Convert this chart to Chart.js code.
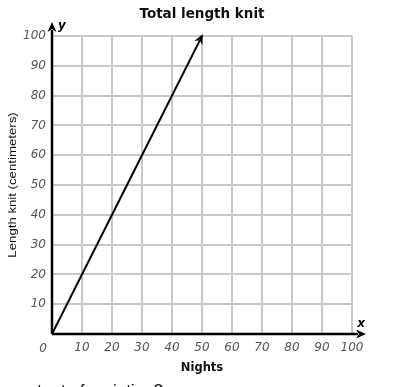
<!DOCTYPE html>
<html>
<head>
<meta charset="utf-8">
<style>
  html, body { margin: 0; padding: 0; background: #fff; }
  #wrap { width: 420px; height: 387px; }
</style>
<script src="https://cdn.jsdelivr.net/npm/chart.js@4"></script>
</head>
<body>
<div id="wrap"><canvas id="c" width="420" height="387"></canvas></div>
<script>
// ---- data ----
const nights = [0, 50];
const lengthKnit = [0, 100];
const xTicks = [0, 10, 20, 30, 40, 50, 60, 70, 80, 90, 100];
const yTicks = [0, 10, 20, 30, 40, 50, 60, 70, 80, 90, 100];
const titleText = 'Total length knit';
const xTitle = 'Nights';
const yTitle = 'Length knit (centimeters)';
const questionText = 'What is the constant of variation?';

const points = nights.map((n, i) => ({ x: n, y: lengthKnit[i] }));

function arrowHead(ctx, x0, y0, x1, y1, len, half) {
  const a = Math.atan2(y1 - y0, x1 - x0);
  ctx.save();
  ctx.translate(x1, y1);
  ctx.rotate(a);
  ctx.beginPath();
  ctx.moveTo(0, 0);
  ctx.lineTo(-len, -half);
  ctx.lineTo(-len * 0.7, 0);
  ctx.lineTo(-len, half);
  ctx.closePath();
  ctx.fillStyle = '#000';
  ctx.fill();
  ctx.restore();
}

const decor = {
  id: 'decor',
  afterDraw(chart) {
    const ctx = chart.ctx;
    const xs = chart.scales.x, ys = chart.scales.y;
    const ox = xs.getPixelForValue(0), oy = ys.getPixelForValue(0);
    const xEnd = xs.getPixelForValue(xTicks[xTicks.length - 1]);
    const yEnd = ys.getPixelForValue(yTicks[yTicks.length - 1]);
    ctx.save();
    // axes
    ctx.strokeStyle = '#000';
    ctx.lineWidth = 2.5;
    ctx.beginPath();
    ctx.moveTo(ox, oy);
    ctx.lineTo(xEnd + 6, oy);
    ctx.moveTo(ox, oy);
    ctx.lineTo(ox, yEnd - 6);
    ctx.stroke();
    arrowHead(ctx, ox, oy, xEnd + 14, oy, 10, 4.5);
    arrowHead(ctx, ox, oy, ox, yEnd - 14, 10, 4.5);
    // arrow on data line
    const p0 = chart.getDatasetMeta(0).data[0];
    const p1 = chart.getDatasetMeta(0).data[points.length - 1];
    arrowHead(ctx, p0.x, p0.y, p1.x + 0.8, p1.y - 2, 10, 4.5);
    // axis letters
    ctx.fillStyle = '#000';
    ctx.font = 'italic bold 12px "DejaVu Sans"';
    ctx.textAlign = 'center';
    ctx.textBaseline = 'middle';
    ctx.fillText('x', xEnd + 9, oy - 10);
    ctx.fillText('y', ox + 10, yEnd - 10);
    // zero label
    ctx.fillStyle = '#555';
    ctx.font = 'italic 12px "DejaVu Sans"';
    ctx.fillText('0', ox - 9, oy + 15);
    // title
    const cx = (chart.chartArea.left + chart.chartArea.right) / 2;
    ctx.fillStyle = '#111';
    ctx.font = 'bold 13.5px "DejaVu Sans"';
    ctx.fillText(titleText, cx, 14);
    // x title
    ctx.font = 'bold 11.5px "DejaVu Sans"';
    ctx.fillText(xTitle, cx, 368);
    // y title
    const cy = (chart.chartArea.top + chart.chartArea.bottom) / 2;
    ctx.save();
    ctx.translate(13, cy);
    ctx.rotate(-Math.PI / 2);
    ctx.scale(1.2, 1);
    ctx.font = '11px "Liberation Sans"';
    ctx.fillStyle = '#111';
    ctx.fillText(yTitle, 0, 0);
    ctx.restore();
    // cut-off question text at bottom
    ctx.font = '17px "Liberation Sans"';
    ctx.textAlign = 'right';
    ctx.textBaseline = 'alphabetic';
    ctx.fillStyle = '#111';
    ctx.fillText(questionText, 163, 395.5);
    ctx.restore();
  }
};

const tickFont = { family: 'DejaVu Sans', size: 12, style: 'italic' };

new Chart(document.getElementById('c'), {
  type: 'scatter',
  data: {
    datasets: [{
      data: points,
      showLine: true,
      borderColor: '#000',
      borderWidth: 2,
      pointRadius: 0,
      fill: false
    }]
  },
  options: {
    responsive: false,
    animation: false,
    layout: { padding: { top: 36, right: 68, left: 0, bottom: 0 } },
    plugins: { legend: { display: false }, tooltip: { enabled: false }, title: { display: false } },
    scales: {
      x: {
        type: 'linear',
        min: xTicks[0], max: xTicks[xTicks.length - 1],
        afterBuildTicks: s => { s.ticks = xTicks.map(v => ({ value: v })); },
        afterFit: s => { s.height = 53; },
        ticks: { callback: v => v === 0 ? '' : String(v), font: tickFont, color: '#555', padding: 7, maxRotation: 0, autoSkip: false },
        grid: { color: '#c8c8c8', lineWidth: 2, drawTicks: false },
        border: { display: false }
      },
      y: {
        type: 'linear',
        min: yTicks[0], max: yTicks[yTicks.length - 1],
        afterBuildTicks: s => { s.ticks = yTicks.map(v => ({ value: v })); },
        afterFit: s => { s.width = 52; },
        ticks: { callback: v => v === 0 ? '' : String(v), font: tickFont, color: '#555', padding: 6, autoSkip: false },
        grid: { color: '#c8c8c8', lineWidth: 2, drawTicks: false },
        border: { display: false }
      }
    }
  },
  plugins: [decor]
});
</script>
</body>
</html>
